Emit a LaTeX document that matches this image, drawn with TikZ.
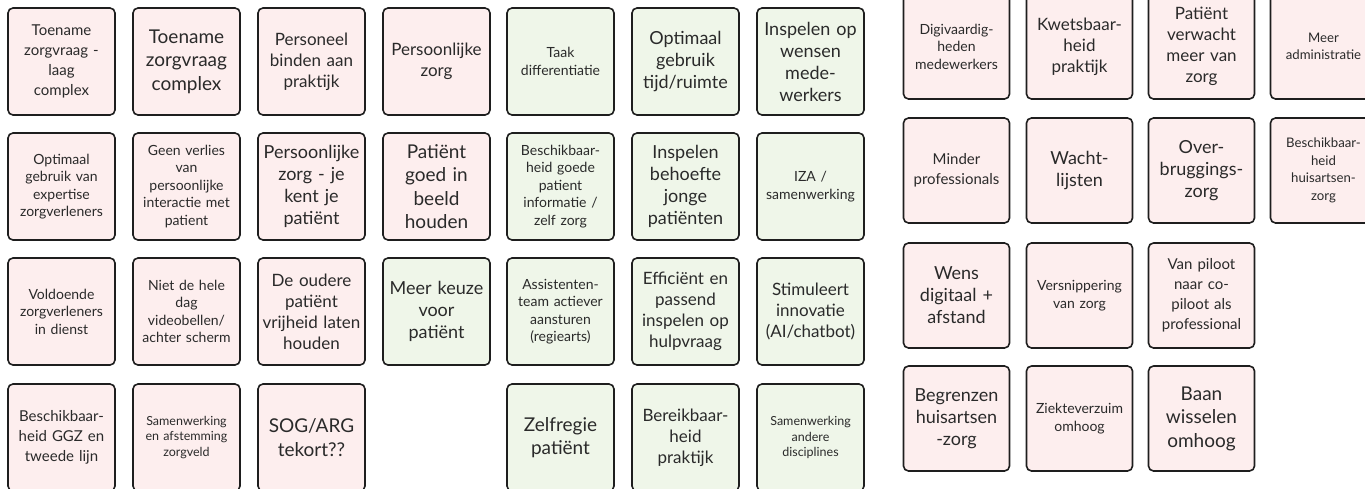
\documentclass[tikz,border=0pt]{standalone}
\usepackage{fontspec}
\setmainfont{Lato}
\definecolor{pinkfill}{HTML}{FDEEEE}
\definecolor{greenfill}{HTML}{EFF6E9}
\definecolor{noteedge}{HTML}{1E1E1E}
\definecolor{notetext}{HTML}{2A2A2A}
\tikzset{
every picture/.style={
line width=1pt
}}

\begin{document}
\begin{tikzpicture}[x=1pt, y=-1pt,
note/.style = {rectangle, rounded corners=5pt, draw=noteedge, line width=1.6pt,
  minimum width=107pt, minimum height=107pt, inner sep=1pt, text width=104pt,
  align=center, text=notetext},
pinknote/.style = {note, fill=pinkfill},
greennote/.style = {note, fill=greenfill},
rightnote/.style = {pinknote, minimum width=105pt, minimum height=105pt},
bigtext/.style = {font=\fontsize{19}{23.5}\selectfont},
largetext/.style = {font=\fontsize{18}{22}\selectfont},
midtext/.style = {font=\fontsize{17}{21}\selectfont},
smalltext/.style = {font=\fontsize{15}{20}\selectfont},
tinytext/.style = {font=\fontsize{14}{17.5}\selectfont},
edgetext/.style = {font=\fontsize{13.2}{17.5}\selectfont},
minitext/.style = {font=\fontsize{12.5}{15.5}\selectfont}]

\useasboundingbox (0,0) rectangle (1365,488);
\clip (0,0) rectangle (1365,488);

% left board, row 1
\node [pinknote, smalltext] (laagcomplex) at (61.5,61.5) {Toename\\zorgvraag -\\laag\\complex};
\node [pinknote, bigtext] (complex) at (186.5,61.5) {Toename\\zorgvraag\\complex};
\node [pinknote, midtext] (binden) at (311.5,61.5) {Personeel\\binden aan\\praktijk};
\node [pinknote, midtext] (perszorg) at (436.5,61.5) {Persoonlijke\\zorg};
\node [greennote, tinytext] (taakdiff) at (560.5,61.5) {Taak\\differentiatie};
\node [greennote, largetext] (tijdruimte) at (685.5,61.5) {Optimaal\\gebruik\\tijd/ruimte};
\node [greennote, largetext] (wensen) at (810.5,61.5) {Inspelen op\\wensen\\mede-\\werkers};

% left board, row 2
\node [pinknote, tinytext] (expertise) at (61.5,186.5) {Optimaal\\gebruik van\\expertise\\zorgverleners};
\node [pinknote, tinytext] (verlies) at (186.5,186.5) {Geen verlies\\van\\persoonlijke\\interactie met\\patient};
\node [pinknote, largetext] (kentje) at (311.5,186.5) {Persoonlijke\\zorg - je\\kent je\\patiënt};
\node [pinknote, bigtext] (inbeeld) at (436.5,186.5) {Patiënt\\goed in\\beeld\\houden};
\node [greennote, tinytext] (informatie) at (560.5,186.5) {Beschikbaar-\\heid goede\\patient\\informatie /\\zelf zorg};
\node [greennote, largetext] (jonge) at (685.5,186.5) {Inspelen\\behoefte\\jonge\\patiënten};
\node [greennote, tinytext] (iza) at (810.5,186.5) {IZA /\\samenwerking};

% left board, row 3
\node [pinknote, tinytext] (voldoende) at (61.5,311.5) {Voldoende\\zorgverleners\\in dienst};
\node [pinknote, tinytext] (videobellen) at (186.5,311.5) {Niet de hele\\dag\\videobellen/\\achter scherm};
\node [pinknote, midtext] (oudere) at (311.5,311.5) {De oudere\\patiënt\\vrijheid laten\\houden};
\node [greennote, largetext] (keuze) at (436.5,311.5) {Meer keuze\\voor\\patiënt};
\node [greennote, tinytext] (regiearts) at (560.5,311.5) {Assistenten-\\team actiever\\aansturen\\(regiearts)};
\node [greennote, midtext] (hulpvraag) at (685.5,311.5) {Efficiënt en\\passend\\inspelen op\\hulpvraag};
\node [greennote, midtext] (innovatie) at (810.5,311.5) {Stimuleert\\innovatie\\(AI/chatbot)};

% left board, row 4
\node [pinknote, smalltext] (ggz) at (61.5,437.5) {Beschikbaar-\\heid GGZ en\\tweede lijn};
\node [pinknote, minitext] (zorgveld) at (186.5,437.5) {Samenwerking\\en afstemming\\zorgveld};
\node [pinknote, bigtext] (sogarg) at (311.5,437.5) {SOG/ARG\\tekort??};
\node [greennote, bigtext] (zelfregie) at (560.5,437.5) {Zelfregie\\patiënt};
\node [greennote, midtext] (bereikbaar) at (685.5,437.5) {Bereikbaar-\\heid\\praktijk};
\node [greennote, minitext] (disciplines) at (810.5,437.5) {Samenwerking\\andere\\disciplines};

% right board
\node [rightnote, tinytext] (digi) at (956.5,46.5) {Digivaardig-\\heden\\medewerkers};
\node [rightnote, midtext] (kwetsbaar) at (1079.5,46.5) {Kwetsbaar-\\heid\\praktijk};
\node [rightnote, midtext] (verwacht) at (1201.5,46.5) {Patiënt\\verwacht\\meer van\\zorg};
\node [rightnote, edgetext] (administratie) at (1323.5,46.5) {Meer\\administratie};

\node [rightnote, smalltext] (minder) at (956.5,170.5) {Minder\\professionals};
\node [rightnote, largetext] (wachtlijsten) at (1079.5,170.5) {Wacht-\\lijsten};
\node [rightnote, largetext] (overbrugging) at (1201.5,170.5) {Over-\\bruggings-\\zorg};
\node [rightnote, edgetext] (huisartsenzorg) at (1323.5,170.5) {Beschikbaar-\\heid\\huisartsen-\\zorg};

\node [rightnote, largetext] (digitaal) at (956.5,295.5) {Wens\\digitaal +\\afstand};
\node [rightnote, tinytext] (versnippering) at (1079.5,295.5) {Versnippering\\van zorg};
\node [rightnote, smalltext] (copiloot) at (1201.5,295.5) {Van piloot\\naar co-\\piloot als\\professional};

\node [rightnote, largetext] (begrenzen) at (956.5,418.5) {Begrenzen\\huisartsen\\-zorg};
\node [rightnote, tinytext] (verzuim) at (1079.5,418.5) {Ziekteverzuim\\omhoog};
\node [rightnote, bigtext] (baan) at (1201.5,418.5) {Baan\\wisselen\\omhoog};
\end{tikzpicture}
\end{document}
